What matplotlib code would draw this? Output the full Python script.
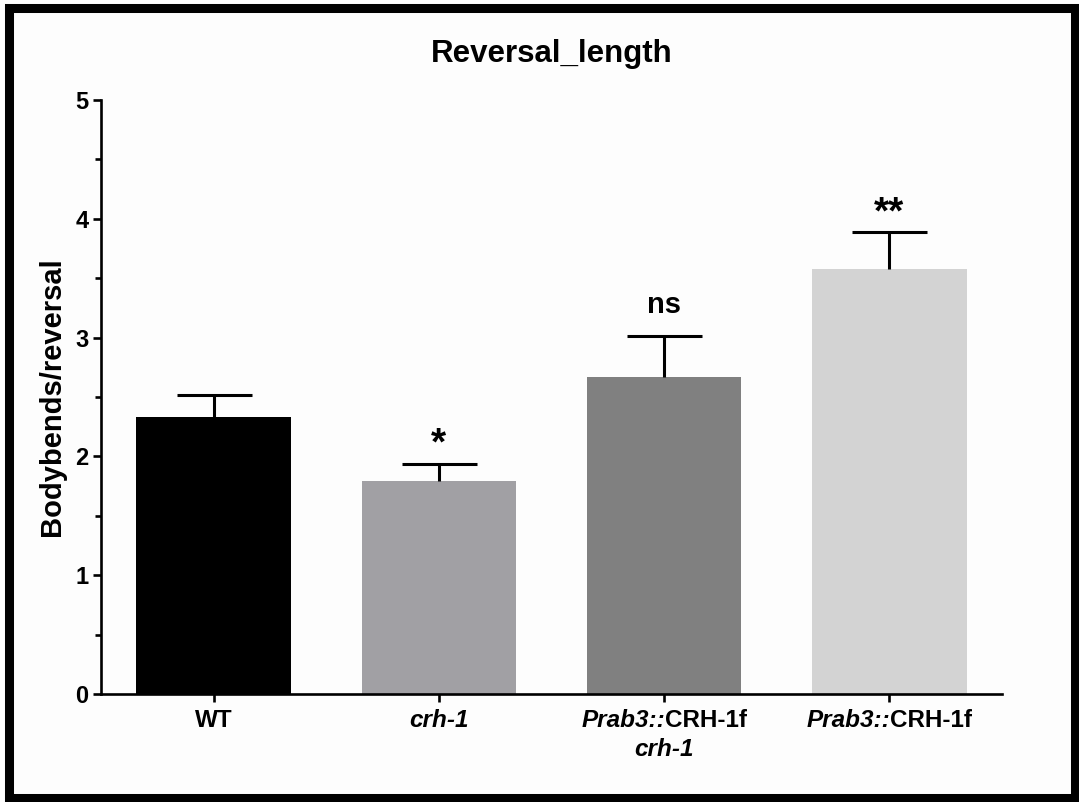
import matplotlib
matplotlib.use("Agg")
import matplotlib.pyplot as plt
from matplotlib.patches import Rectangle
from matplotlib.offsetbox import TextArea, HPacker, VPacker, AnnotationBbox
from matplotlib.ticker import MultipleLocator

plt.rcParams['font.family'] = ['Liberation Sans', 'DejaVu Sans']

# datos
grupos = ["WT", "crh-1", "Prab3::CRH-1f crh-1", "Prab3::CRH-1f"]
medias = [2.33, 1.79, 2.67, 3.58]
errores = [0.19, 0.15, 0.34, 0.31]
signif = ["", "*", "ns", "**"]
colores = ["#000000", "#a1a0a4", "#808080", "#d3d3d3"]

fig = plt.figure(figsize=(10.79, 8.02), dpi=100)
fig.patch.set_facecolor("#fdfdfd")
ax = fig.add_axes([101 / 1079, 1 - 694 / 802, 901 / 1079, 594 / 802])
ax.set_facecolor("#fdfdfd")

x = list(range(len(grupos)))
ax.bar(x, medias, width=0.685, color=colores, zorder=2)
_, caps, _ = ax.errorbar(x, medias, yerr=[[0] * len(errores), errores], fmt="none",
                         ecolor="black", elinewidth=2.2, capsize=27, capthick=2.2,
                         zorder=3)
caps[0].set_visible(False)  # solo la barra de arriba

for xi, m, e, s in zip(x, medias, errores, signif):
    if not s:
        continue
    if "*" in s:
        # los asteriscos quedan altos en la caja del texto
        ax.annotate(s, (xi, m + e), xytext=(0, 0.5), textcoords="offset points",
                    ha="center", va="bottom", fontsize=28, fontweight="bold")
    else:
        ax.annotate(s, (xi, m + e), xytext=(0, 12.5), textcoords="offset points",
                    ha="center", va="bottom", fontsize=21, fontweight="bold")

ax.set_xlim(-0.5, 3.5)
ax.set_ylim(0, 5)
ax.yaxis.set_major_locator(MultipleLocator(1))
ax.yaxis.set_minor_locator(MultipleLocator(0.5))
for s in ["top", "right"]:
    ax.spines[s].set_visible(False)
for s in ["left", "bottom"]:
    ax.spines[s].set_linewidth(1.9)
ax.tick_params(axis="y", which="major", length=6, width=1.9, labelsize=17, pad=3)
ax.tick_params(axis="y", which="minor", length=4, width=1.9)
ax.tick_params(axis="x", which="major", length=6, width=1.9)
for t in ax.get_yticklabels():
    t.set_fontweight("bold")

# etiquetas del eje x con partes en cursiva
ax.set_xticks(x)
ax.set_xticklabels([""] * len(grupos))
b = dict(fontsize=17.5, fontweight="bold", color="black")
bi = dict(fontsize=17.5, fontweight="bold", fontstyle="italic", color="black")
etiquetas = [
    TextArea("WT", textprops=b),
    TextArea("crh-1", textprops=bi),
    VPacker(children=[HPacker(children=[TextArea("Prab3::", textprops=bi),
                                        TextArea("CRH-1f", textprops=b)], sep=0, pad=0),
                      TextArea("crh-1", textprops=bi)], align="center", sep=4, pad=0),
    HPacker(children=[TextArea("Prab3::", textprops=bi),
                      TextArea("CRH-1f", textprops=b)], sep=0, pad=0),
]
for xi, caja in zip(x, etiquetas):
    ab = AnnotationBbox(caja, (xi, 0), xycoords=("data", "axes fraction"),
                        xybox=(0, -11), boxcoords="offset points",
                        box_alignment=(0.5, 1), frameon=False, pad=0)
    ax.add_artist(ab)

ax.set_ylabel("Bodybends/reversal", fontsize=21, fontweight="bold", labelpad=7)
ax.set_title("Reversal_length", fontsize=22.5, fontweight="bold", pad=27)

# marco negro alrededor de la figura
fig.patches.append(Rectangle((9 / 1079, 4 / 802), 1066 / 1079, 790 / 802,
                             transform=fig.transFigure, fill=False,
                             edgecolor="black", linewidth=6.5))

fig.savefig("out.png", dpi=100, facecolor=fig.get_facecolor())
